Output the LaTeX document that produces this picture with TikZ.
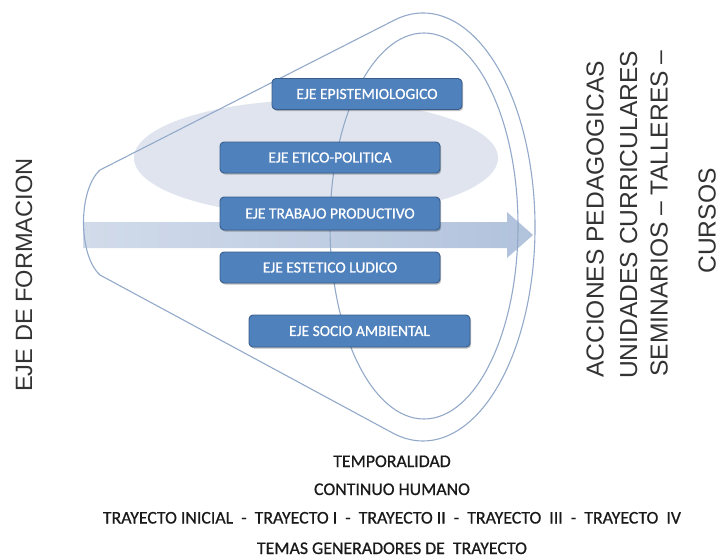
\documentclass[tikz,border=0pt]{standalone}
\usepackage{fontspec}
\setmainfont{Liberation Sans}
\newfontfamily\calib{Carlito}
\newfontfamily\calibb[FakeBold=0.8]{Carlito}
\usetikzlibrary{shadows}
\definecolor{boxblue}{HTML}{4F81BD}
\definecolor{boxedge}{HTML}{385D8A}
\definecolor{outline}{HTML}{93A9C9}
\definecolor{halo}{HTML}{DDE3EE}
\definecolor{arrowL}{HTML}{CCD7E8}
\definecolor{arrowR}{HTML}{A9BCD8}
\definecolor{sidetext}{HTML}{333333}
\definecolor{bottext}{HTML}{1A1A1A}
\begin{document}
\begin{tikzpicture}[x=1pt,y=-1pt,
  ejebox/.style={draw=boxedge, line width=0.9pt, fill=boxblue, rounded corners=4pt,
    minimum height=31pt, inner sep=0pt, text=white,
    font=\calibb\fontsize{15.5}{18}\selectfont,
    drop shadow={shadow xshift=1.2pt, shadow yshift=-1.5pt, opacity=0.25, fill=black}},
  sidelabel/.style={rotate=90, anchor=base west, inner sep=0pt, text=sidetext,
    font=\fontsize{24.6}{28}\selectfont},
  botlabel/.style={anchor=base, inner sep=0pt, text=bottext,
    font=\calibb\fontsize{17.8}{20}\selectfont},
  thinline/.style={draw=outline, line width=1.1pt}]
\useasboundingbox (0,0) rectangle (720,557);
% background halo ellipse
\fill[halo, opacity=0.95] (316,158) ellipse [x radius=182, y radius=58];
% arrow
\shade[left color=arrowL, right color=arrowR, opacity=0.9]
  (83,222) -- (507,222) -- (507,212) -- (533,235) -- (507,258) -- (507,248) -- (83,248) -- cycle;
% cone outline
\draw[thinline] (100,170) -- (394.14,20.23)
  arc[start angle=255.07, end angle=465.77, x radius=112, y radius=214]
  -- (100,275) .. controls (78,255) and (78,190) .. (100,170) -- cycle;
% inner ellipse
\draw[thinline] (424,226) ellipse [x radius=94, y radius=193];
% boxes
\node[ejebox, minimum width=190pt] (ep) at (367,94) {EJE EPISTEMIOLOGICO};
\node[ejebox, minimum width=220pt] (et) at (330,157.5) {EJE ETICO-POLITICA};
\node[ejebox, minimum width=220pt, minimum height=33pt] (tp) at (330,213.5) {EJE TRABAJO PRODUCTIVO};
\node[ejebox, minimum width=220pt] (el) at (330,267.5) {EJE ESTETICO LUDICO};
\node[ejebox, minimum width=221pt, minimum height=32pt] (sa) at (359.5,331) {EJE SOCIO AMBIENTAL};
% side labels
\node[sidelabel, font=\fontsize{23.6}{28}\selectfont] (ef) at (32,392) {EJE DE FORMACION};
\node[sidelabel] (ap) at (603.5,378) {ACCIONES PEDAGOGICAS};
\node[sidelabel] (uc) at (637,379) {UNIDADES CURRICULARES};
\node[sidelabel] (st) at (667.5,377) {SEMINARIOS – TALLERES –};
\node[rotate=90, anchor=base, inner sep=0pt, text=sidetext, font=\fontsize{24.6}{28}\selectfont] (cu) at (715.5,221) {CURSOS};
% bottom labels
\node[botlabel] (tm) at (392,467) {TEMPORALIDAD};
\node[botlabel] (ch) at (392,495) {CONTINUO HUMANO};
\node[botlabel] (tr) at (392,523.5) {TRAYECTO INICIAL ~-~ TRAYECTO I ~-~ TRAYECTO II ~-~ TRAYECTO ~III ~-~ TRAYECTO ~IV};
\node[botlabel] (tg) at (392,554) {TEMAS GENERADORES DE ~TRAYECTO};
\end{tikzpicture}
\end{document}
